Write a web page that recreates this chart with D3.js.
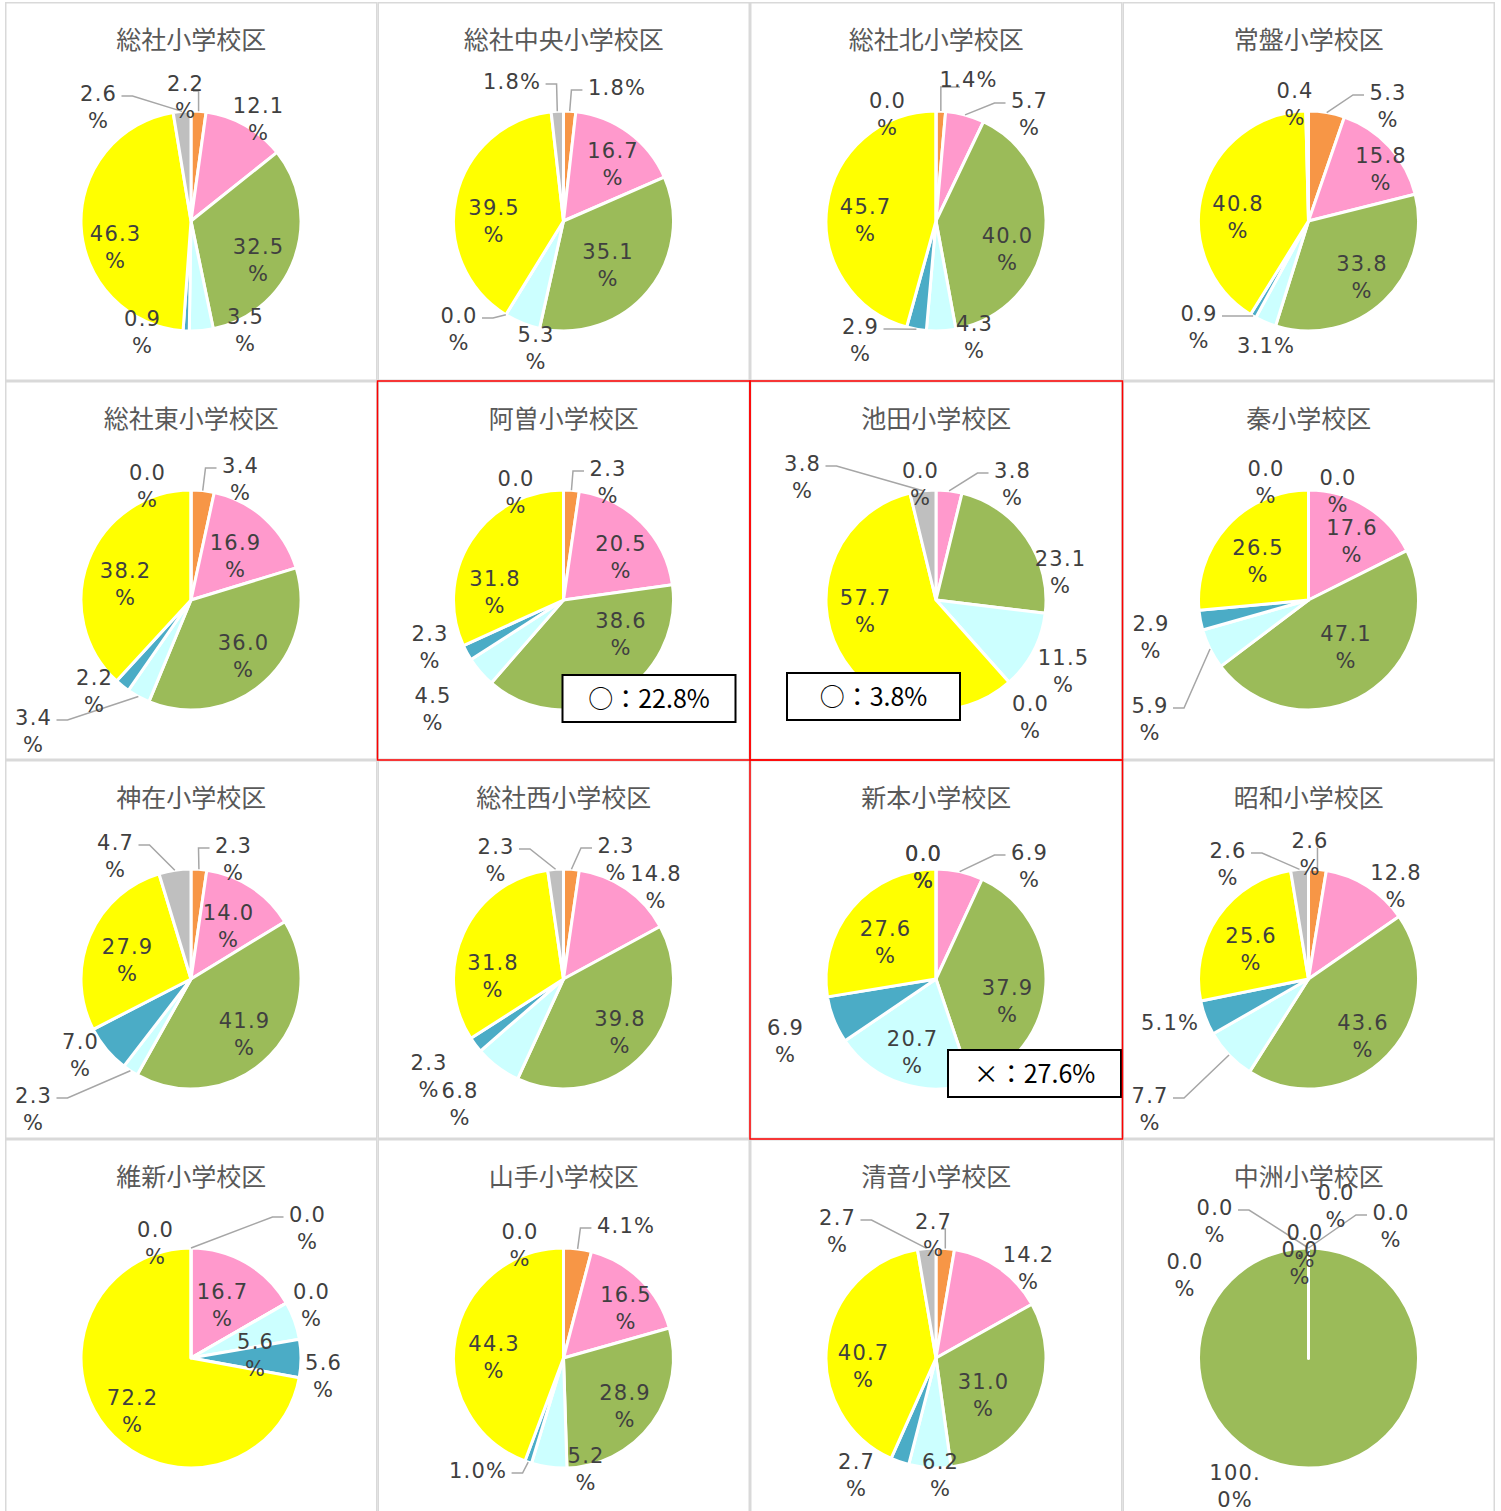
<!DOCTYPE html>
<html><head><meta charset="utf-8">
<script src="https://cdn.jsdelivr.net/npm/d3@7"></script>
<style>body{margin:0;background:#fff}svg{display:block}</style>
</head><body>
<svg id="chart" width="1501" height="1511"></svg>
<script>
// ---- data ----
const schools = ["総社小学校区","総社中央小学校区","総社北小学校区","常盤小学校区",
  "総社東小学校区","阿曽小学校区","池田小学校区","秦小学校区",
  "神在小学校区","総社西小学校区","新本小学校区","昭和小学校区",
  "維新小学校区","山手小学校区","清音小学校区","中洲小学校区"];
const answerKeys = ["A","B","C","D","E","F","G"];
const seriesA = [2.2, 1.8, 1.4, 5.3, 3.4, 2.3, 0.0, 0.0, 2.3, 2.3, 0.0, 2.6, 0.0, 4.1, 2.7, 0.0];
const seriesB = [12.1,16.7, 5.7,15.8,16.9,20.5, 3.8,17.6,14.0,14.8, 6.9,12.8,16.7,16.5,14.2, 0.0];
const seriesC = [32.5,35.1,40.0,33.8,36.0,38.6,23.1,47.1,41.9,39.8,37.9,43.6, 0.0,28.9,31.0,100.0];
const seriesD = [3.5, 5.3, 4.3, 3.1, 3.4, 4.5,11.5, 5.9, 2.3, 6.8,20.7, 7.7, 5.6, 5.2, 6.2, 0.0];
const seriesE = [0.9, 0.0, 2.9, 0.9, 2.2, 2.3, 0.0, 2.9, 7.0, 2.3, 6.9, 5.1, 5.6, 1.0, 2.7, 0.0];
const seriesF = [46.3,39.5,45.7,40.8,38.2,31.8,57.7,26.5,27.9,31.8,27.6,25.6,72.2,44.3,40.7, 0.0];
const seriesG = [2.6, 1.8, 0.0, 0.4, 0.0, 0.0, 3.8, 0.0, 4.7, 2.3, 0.0, 2.6, 0.0, 0.0, 2.7, 0.0];
const series = [seriesA, seriesB, seriesC, seriesD, seriesE, seriesF, seriesG];
const notes = [{school:5, text:"○：22.8%"},{school:6, text:"○：3.8%"},{school:10, text:"×：27.6%"}];
const highlighted = [5, 6, 10];

// ---- layout / style ----
const colors = ["#F79646","#FF99CC","#9BBB59","#CCFFFF","#4BACC6","#FFFF00","#BFBFBF"];
// label anchor (first-line centre) relative to pie centre, per school, per slice
const labelOffsets = [
 [[-6,-138],[67,-116],[67,25],[54,95],[-49,97],[-76,12],[-93,-128]],
 [[53,-134],[49,-71],[44,30],[-28,113],[-105,94],[-70,-14],[-52,-140]],
 [[32,-142],[93,-121],[71,14],[38,102],[-76,105],[-71,-15],[-49,-121]],
 [[79,-129],[72,-66],[53,42],[-43,124],[-110,92],[-71,-18],[-14,-131]],
 [[49,-135],[44,-58],[52,42],[-158,117],[-97,77],[-66,-30],[-44,-128]],
 [[44,-132],[57,-57],[57,20],[-131,95],[-134,33],[-69,-22],[-48,-122]],
 [[-16,-130],[76,-130],[124,-42],[127,57],[94,103],[-71,-3],[-134,-137]],
 [[29,-123],[43,-73],[37,33],[-159,105],[-158,23],[-51,-53],[-43,-132]],
 [[42,-134],[37,-67],[53,41],[-158,116],[-111,62],[-64,-33],[-76,-137]],
 [[52,-134],[92,-106],[56,39],[-104,111],[-135,83],[-71,-17],[-68,-133]],
 [[-13,-126],[93,-127],[71,8],[-24,59],[-151,48],[-51,-51],[-13,-126]],
 [[1,-139],[87,-107],[54,43],[-159,116],[-139,43],[-58,-44],[-81,-129]],
 [[116,-144],[31,-67],[120,-67],[64,-17],[132,4],[-59,39],[-36,-129]],
 [[62,-133],[62,-64],[61,34],[22,97],[-86,112],[-70,-15],[-44,-127]],
 [[-3,-137],[92,-104],[47,23],[4,103],[-80,103],[-73,-6],[-99,-141]],
 [[82,-146],[27,-166],[-74,114],[-4,-126],[-9,-109],[-124,-97],[-94,-151]]
];
const leaders = [[0,6],[0,6,4],[0,1,4],[0,4],[0,3],[0],[1,6],[3],[0,6,3],[0,6],[1],[0,6,3],[0],[0,4],[0,6],[0,6]];
const singleLine = {1:[0,6],2:[0],3:[3],11:[4],13:[0,4]};
const noteBoxes = {5:[185,294],6:[37,292],10:[198,290]};

const FONT = "'Noto Sans CJK JP','Noto Sans',sans-serif";
const NUMFONT = "'DejaVu Sans','Noto Sans CJK JP',sans-serif";
const svg = d3.select("#chart");
const colX = d3.scaleBand().domain(d3.range(4)).range([5, 1495]);
const rowY = d3.scaleBand().domain(d3.range(4)).range([2, 2 + 379 * 4]);
const R = 110;
const pie = d3.pie().sort(null).value(d => d.v);
const arc = d3.arc().innerRadius(0).outerRadius(R);

schools.forEach((name, i) => {
  const col = i % 4, row = Math.floor(i / 4);
  const x0 = colX(col), y0 = rowY(row), w = colX.bandwidth(), h = rowY.bandwidth();
  const g = svg.append("g").attr("transform", `translate(${x0},${y0})`);
  g.append("rect").attr("x", 0.75).attr("y", 0.75).attr("width", w - 1.5).attr("height", h - 1.5)
    .attr("fill", "#fff").attr("stroke", "#D9D9D9").attr("stroke-width", 1.5);
  const cx = 186, cy = 219;
  const pg = g.append("g").attr("transform", `translate(${cx},${cy})`);
  const data = series.map((s, k) => ({v: s[i], k}));
  const arcs = pie(data);
  pg.selectAll("path.slice").data(arcs).join("path").attr("class", "slice")
    .attr("d", arc).attr("fill", d => colors[d.data.k])
    .attr("stroke", "#fff").attr("stroke-width", 3).attr("stroke-linejoin", "round");

  g.append("text").attr("x", w / 2).attr("y", 47).attr("text-anchor", "middle")
    .attr("font-family", FONT).attr("font-size", 25).attr("fill", "#595959").text(name);

  const lg = pg.append("g");
  const tg = pg.append("g");
  arcs.forEach(d => {
    const k = d.data.k;
    const [lx, ly] = labelOffsets[i][k];
    const txt = d.data.v.toFixed(1) + "%";
    let lines;
    if (singleLine[i] && singleLine[i].includes(k)) lines = [txt];
    else if (txt.length > 5) lines = [txt.slice(0, 4), txt.slice(4)];
    else lines = [txt.slice(0, -1), "%"];
    const t = tg.append("text").attr("text-anchor", "middle").attr("font-family", NUMFONT)
      .attr("font-size", 21).attr("letter-spacing", 1.2).attr("fill", "#404040");
    lines.forEach((ln, j) => t.append("tspan").attr("x", lx + 0.6).attr("y", ly + 8 + j * 27).text(ln));
    if (leaders[i].includes(k)) {
      const tw = t.select("tspan").node().getComputedTextLength();
      const a = (d.startAngle + d.endAngle) / 2;
      const px = R * Math.sin(a), py = -R * Math.cos(a);
      const hw = tw / 2 + 5;
      let pts;
      if (px > lx + hw) pts = [[lx + hw, ly + 3], [lx + hw + 11, ly + 3], [px, py]];
      else if (px < lx - hw) pts = [[lx - hw, ly + 3], [lx - hw - 11, ly + 3], [px, py]];
      else pts = [[lx + (px >= lx ? 8 : -8), ly + 8], [px, ly + 8], [px, py]];
      lg.append("path").attr("d", d3.line()(pts)).attr("fill", "none")
        .attr("stroke", "#A6A6A6").attr("stroke-width", 1.5);
    }
  });
});

// note boxes
notes.forEach(n => {
  const col = n.school % 4, row = Math.floor(n.school / 4);
  const [bx, by] = noteBoxes[n.school];
  const g = svg.append("g").attr("transform", `translate(${colX(col) + bx},${rowY(row) + by})`);
  g.append("rect").attr("width", 173).attr("height", 47).attr("fill", "#fff")
    .attr("stroke", "#000").attr("stroke-width", 2);
  g.append("text").attr("x", 86.5).attr("y", 33).attr("text-anchor", "middle")
    .attr("font-family", FONT).attr("font-size", 25).attr("fill", "#000").text(n.text);
});

// highlight frames
highlighted.forEach(i => {
  const col = i % 4, row = Math.floor(i / 4);
  svg.append("rect").attr("x", colX(col)).attr("y", rowY(row))
    .attr("width", colX.bandwidth()).attr("height", rowY.bandwidth())
    .attr("fill", "none").attr("stroke", "#FF0000").attr("stroke-width", 1.5);
});
</script>
</body></html>
